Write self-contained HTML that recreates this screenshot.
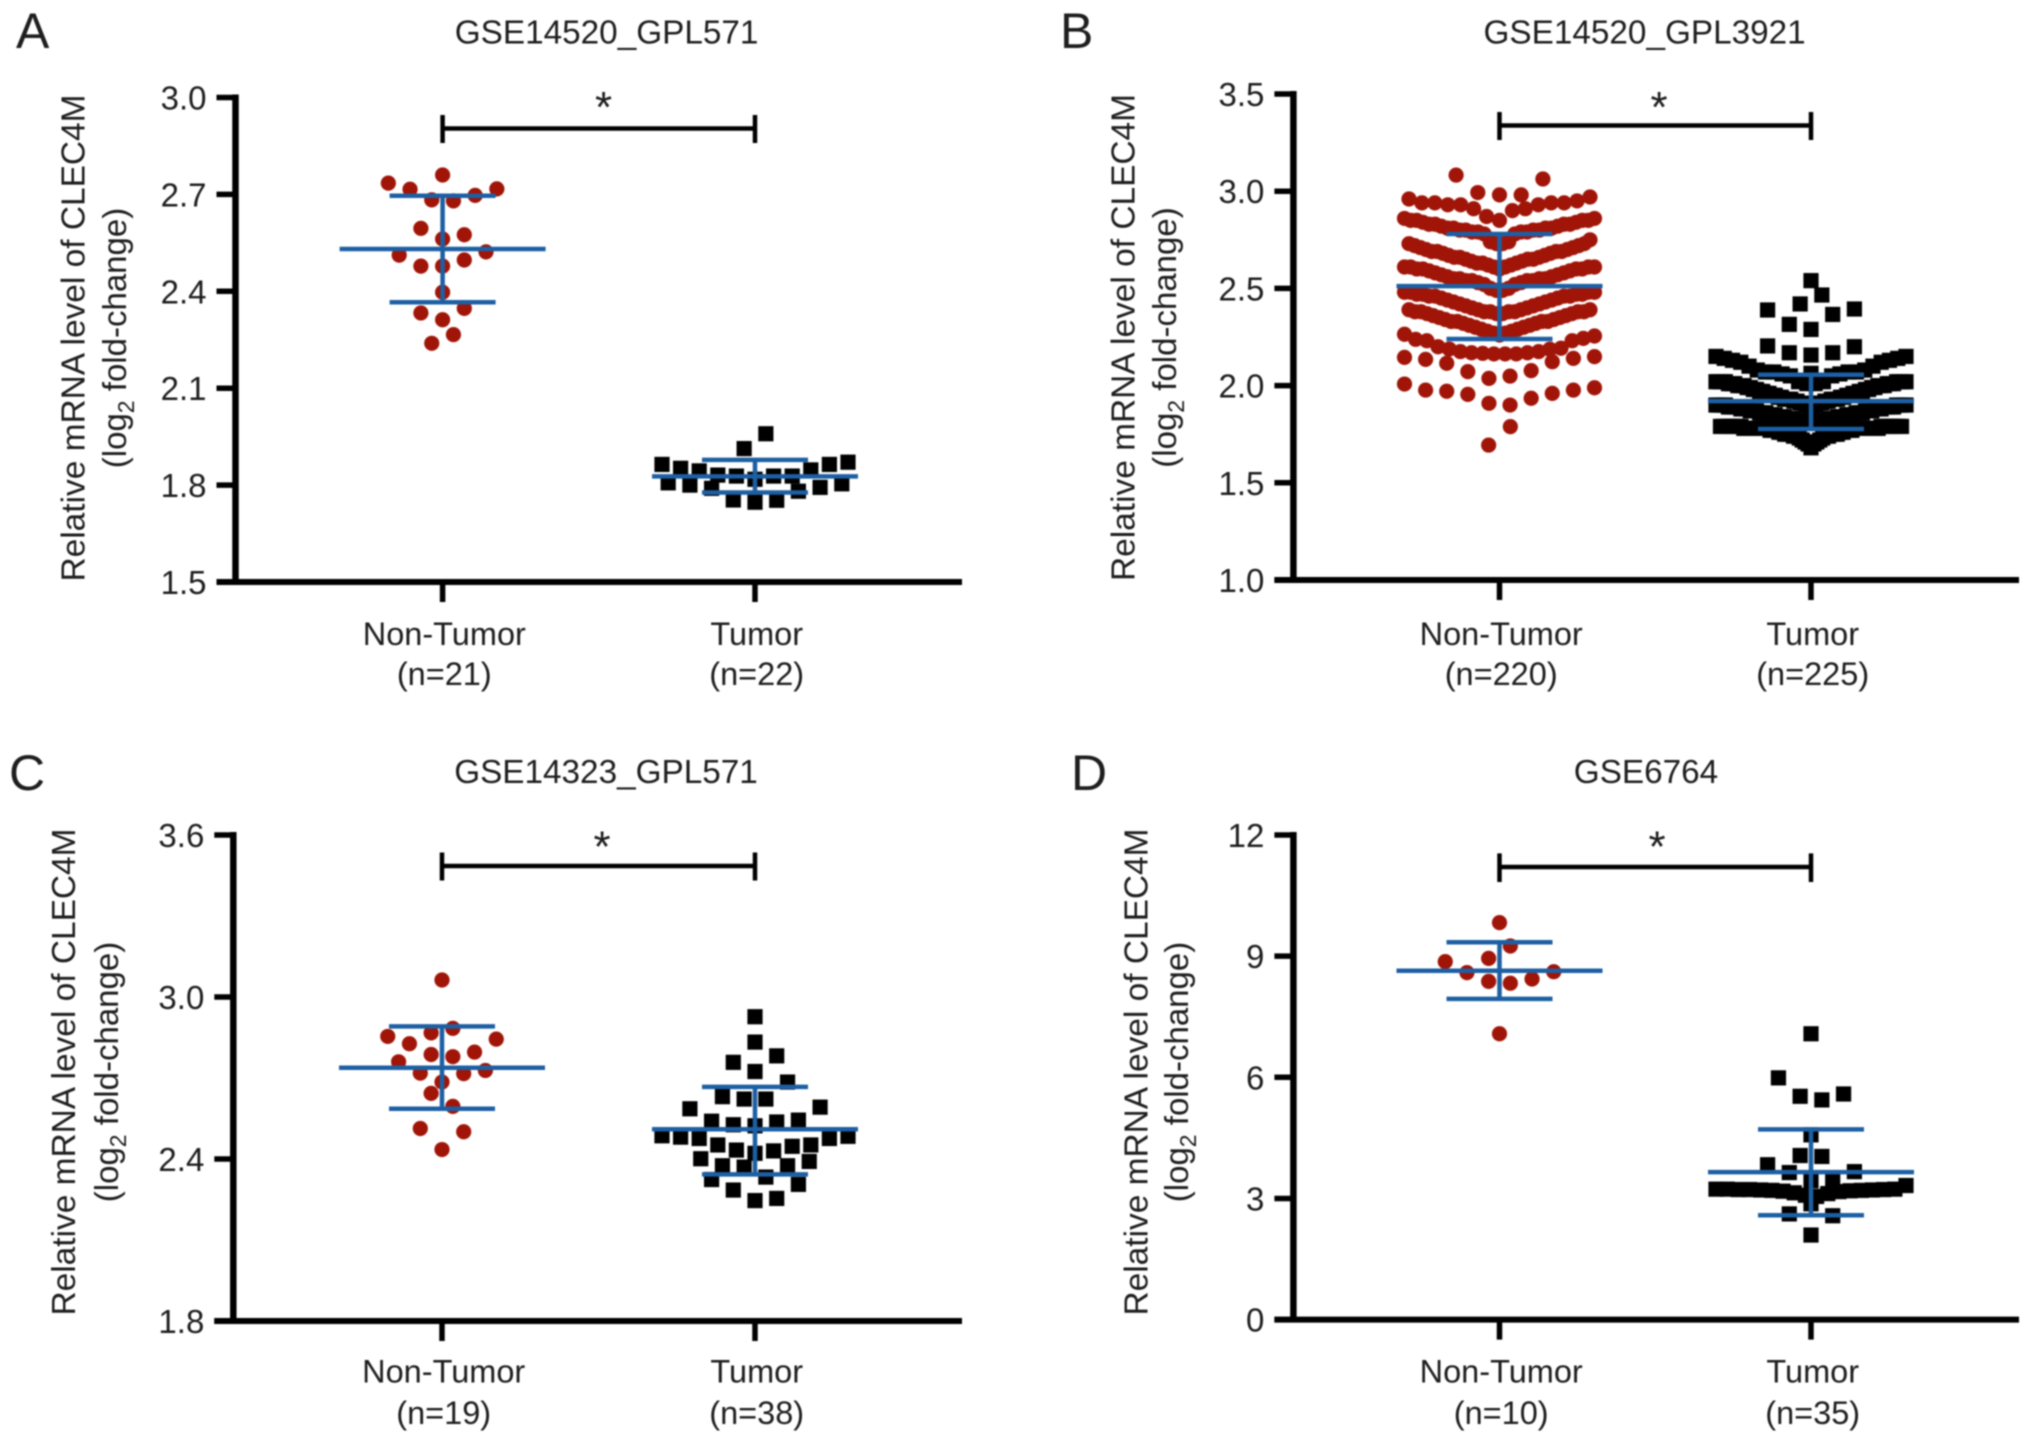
<!DOCTYPE html>
<html lang="en">
<head>
<meta charset="utf-8">
<title>CLEC4M relative mRNA level</title>
<style>
html,body{margin:0;padding:0;background:#fff;}
svg{display:block;filter:blur(0.7px);}
text{font-family:"Liberation Sans",sans-serif;fill:#1e1e1e;}
</style>
</head>
<body>
<svg id="figure" xmlns="http://www.w3.org/2000/svg" width="2032" height="1442" viewBox="0 0 2032 1442">
<rect width="2032" height="1442" fill="#fff"/>
<text x="16" y="48" font-size="50">A</text>
<text x="1060" y="48" font-size="50">B</text>
<text x="9" y="790" font-size="50">C</text>
<text x="1071" y="790" font-size="50">D</text>
</svg>
<script>
const categories = ['Non-Tumor', 'Tumor'];

/* Panel A */
const panelATitle = 'GSE14520_GPL571';
const panelATicks = ['1.5', '1.8', '2.1', '2.4', '2.7', '3.0'];
const panelACounts = ['(n=21)', '(n=22)'];
const panelANonTumorRows = [
  [2.76],
  [2.735, 2.716, 2.683, 2.680, 2.697, 2.717],
  [2.595, 2.562, 2.575],
  [2.512, 2.478, 2.478, 2.497, 2.522],
  [2.397],
  [2.333, 2.312, 2.347],
  [2.239, 2.266]
];
const panelATumorRows = [
  [1.913, 1.959],
  [1.864, 1.852, 1.844, 1.831, 1.828, 1.818, 1.828, 1.828, 1.847, 1.864, 1.871],
  [1.807, 1.800, 1.790, 1.754, 1.747, 1.753, 1.781, 1.793, 1.804]
];
const panelANonTumorStats = [2.531, 2.696, 2.366];
const panelATumorStats = [1.827, 1.878, 1.777];

/* Panel B */
const panelBTitle = 'GSE14520_GPL3921';
const panelBTicks = ['1.0', '1.5', '2.0', '2.5', '3.0', '3.5'];
const panelBCounts = ['(n=220)', '(n=225)'];
const panelBNonTumorRows = [
  [3.083, 2.993, 2.981, 2.981, 3.063],
  [2.96, 2.94, 2.94, 2.93, 2.93, 2.91, 2.87, 2.85, 2.90, 2.91, 2.93, 2.94, 2.94, 2.95, 2.97],
  [2.86, 2.85, 2.85, 2.84, 2.83, 2.83, 2.82, 2.81, 2.81, 2.80, 2.80, 2.79, 2.79, 2.78, 2.74, 2.73,
   2.73, 2.74, 2.78, 2.79, 2.79, 2.80, 2.80, 2.81, 2.81, 2.82, 2.83, 2.83, 2.84, 2.85, 2.85, 2.86],
  [2.73, 2.72, 2.71, 2.70, 2.69, 2.69, 2.68, 2.67, 2.66, 2.66, 2.65, 2.64, 2.63, 2.63, 2.62, 2.61, 2.60,
   2.61, 2.62, 2.63, 2.64, 2.65, 2.65, 2.66, 2.67, 2.68, 2.69, 2.69, 2.70, 2.71, 2.72, 2.73, 2.75],
  [2.61, 2.61, 2.60, 2.60, 2.59, 2.58, 2.57, 2.56, 2.55, 2.55, 2.54, 2.54, 2.53, 2.52, 2.50, 2.49,
   2.49, 2.50, 2.52, 2.53, 2.54, 2.54, 2.55, 2.55, 2.56, 2.57, 2.58, 2.59, 2.60, 2.60, 2.61, 2.61],
  [2.48, 2.48, 2.47, 2.47, 2.46, 2.46, 2.45, 2.44, 2.43, 2.42, 2.41, 2.40, 2.39, 2.38, 2.38, 2.37,
   2.37, 2.38, 2.38, 2.39, 2.40, 2.41, 2.42, 2.43, 2.44, 2.45, 2.46, 2.46, 2.47, 2.47, 2.48, 2.48],
  [2.39, 2.38, 2.38, 2.37, 2.36, 2.35, 2.34, 2.33, 2.33, 2.32, 2.31, 2.30, 2.29, 2.28, 2.27, 2.26,
   2.27, 2.28, 2.29, 2.30, 2.31, 2.32, 2.33, 2.33, 2.34, 2.35, 2.36, 2.37, 2.38, 2.38, 2.39],
  [2.264, 2.238, 2.231, 2.200, 2.188, 2.175, 2.169, 2.166, 2.163, 2.163, 2.163, 2.169, 2.175, 2.187, 2.192, 2.231, 2.243, 2.255],
  [2.145, 2.135, 2.115, 2.072, 2.037, 2.049, 2.077, 2.123, 2.140, 2.149],
  [2.008, 1.977, 1.971, 1.955, 1.909, 1.900, 1.935, 1.960, 1.977, 1.989],
  [1.694, 1.789]
];
const panelBTumorRows = [
  [2.540],
  [2.420, 2.466],
  [2.389, 2.315, 2.289, 2.366, 2.394],
  [2.204, 2.169, 2.157, 2.169, 2.200],
  [2.063],
  [2.15, 2.14, 2.13, 2.12, 2.10, 2.08, 2.07, 2.07, 2.06, 2.05, 2.02, 2.01,
   2.01, 2.02, 2.05, 2.06, 2.07, 2.07, 2.08, 2.10, 2.12, 2.13, 2.14, 2.15],
  [2.02, 2.02, 2.02, 2.02, 2.01, 2.01, 2.01, 2.00, 2.00, 2.00, 1.99, 1.99, 1.98, 1.98, 1.97, 1.97,
   1.96, 1.96, 1.95, 1.95, 1.94, 1.94, 1.93, 1.93, 1.93, 1.92, 1.92, 1.91, 1.91, 1.90, 1.89,
   1.89, 1.90, 1.91, 1.91, 1.92, 1.92, 1.93, 1.93, 1.93, 1.94, 1.94, 1.95, 1.95, 1.96, 1.96,
   1.97, 1.97, 1.98, 1.98, 1.99, 1.99, 2.00, 2.00, 2.00, 2.01, 2.01, 2.01, 2.02, 2.02, 2.02, 2.02],
  [1.90, 1.90, 1.90, 1.90, 1.89, 1.89, 1.89, 1.89, 1.88, 1.88, 1.88, 1.87, 1.87, 1.87, 1.86, 1.86,
   1.86, 1.85, 1.85, 1.85, 1.84, 1.84, 1.84, 1.83, 1.83, 1.83, 1.82, 1.82, 1.82, 1.81, 1.81,
   1.81, 1.81, 1.82, 1.82, 1.82, 1.83, 1.83, 1.83, 1.84, 1.84, 1.84, 1.85, 1.85, 1.85, 1.86,
   1.86, 1.86, 1.87, 1.87, 1.87, 1.88, 1.88, 1.88, 1.89, 1.89, 1.89, 1.89, 1.90, 1.90, 1.90, 1.90],
  [1.79, 1.79, 1.79, 1.79, 1.79, 1.79, 1.79, 1.79, 1.78, 1.78, 1.78, 1.78, 1.78, 1.78, 1.78, 1.78,
   1.78, 1.77, 1.77, 1.77, 1.76, 1.76, 1.75, 1.75, 1.75, 1.74, 1.74, 1.73, 1.72, 1.71, 1.70, 1.68,
   1.70, 1.71, 1.72, 1.73, 1.74, 1.74, 1.75, 1.75, 1.75, 1.76, 1.76, 1.77, 1.77, 1.77, 1.78,
   1.78, 1.78, 1.78, 1.78, 1.78, 1.78, 1.78, 1.78, 1.79, 1.79, 1.79, 1.79, 1.79, 1.79, 1.79, 1.79]
];
const panelBNonTumorStats = [2.512, 2.78, 2.24];
const panelBTumorStats = [1.92, 2.056, 1.777];

/* Panel C */
const panelCTitle = 'GSE14323_GPL571';
const panelCTicks = ['1.8', '2.4', '3.0', '3.6'];
const panelCCounts = ['(n=19)', '(n=38)'];
const panelCNonTumorRows = [
  [3.063],
  [2.854, 2.827, 2.867, 2.884, 2.796, 2.844],
  [2.787, 2.779],
  [2.760, 2.718, 2.685, 2.716, 2.728],
  [2.643, 2.595],
  [2.513, 2.435, 2.501]
];
const panelCTumorRows = [
  [2.927],
  [2.833],
  [2.758, 2.724, 2.782],
  [2.631, 2.622, 2.622, 2.685],
  [2.586, 2.540, 2.527, 2.523, 2.537, 2.544, 2.592],
  [2.486, 2.481, 2.476, 2.452, 2.433, 2.421, 2.430, 2.447, 2.452, 2.476, 2.484],
  [2.401, 2.375, 2.370, 2.333, 2.375, 2.391],
  [2.324, 2.285, 2.246, 2.254, 2.306]
];
const panelCNonTumorStats = [2.738, 2.891, 2.586];
const panelCTumorStats = [2.510, 2.667, 2.343];

/* Panel D */
const panelDTitle = 'GSE6764';
const panelDTicks = ['0', '3', '6', '9', '12'];
const panelDCounts = ['(n=10)', '(n=35)'];
const panelDNonTumorRows = [
  [9.83],
  [8.865, 8.592, 8.945, 9.252, 8.433, 8.615],
  [8.376, 8.330],
  [7.078]
];
const panelDTumorRows = [
  [7.078],
  [5.986, 5.530, 5.440, 5.587],
  [4.575],
  [4.063, 4.040],
  [3.835, 3.641, 3.437, 3.459, 3.664],
  [3.23, 3.23, 3.22, 3.22, 3.21, 3.20, 3.18, 3.14, 3.08, 3.05, 3.12, 3.17, 3.19, 3.20, 3.21, 3.22, 3.23, 3.32],
  [2.617, 2.868, 2.572],
  [2.094]
];
const panelDNonTumorStats = [8.637, 9.343, 7.943];
const panelDTumorStats = [3.653, 4.711, 2.583];

const RED = '#a01508';
const BLACK = '#000';
const BLUE = '#1d5fa3';
const SVG_NS = 'http://www.w3.org/2000/svg';
const svg = document.getElementById('figure');

function make(tag, parent) {
  const el = document.createElementNS(SVG_NS, tag);
  parent.appendChild(el);
  return el;
}
function setAll(el, props) {
  Object.keys(props).forEach(function (k) { el.setAttribute(k, props[k]); });
}
function line(parent, x1, y1, x2, y2, color, width) {
  const el = make('line', parent);
  setAll(el, { x1: x1, y1: y1, x2: x2, y2: y2, stroke: color, 'stroke-width': width });
  return el;
}
function text(parent, str, x, y, size, anchor) {
  const el = make('text', parent);
  setAll(el, { x: x, y: y, 'font-size': size, 'text-anchor': anchor });
  el.textContent = str;
  return el;
}
function swarmOffset(i, n, geom) {
  if (n < 2) return 0;
  const half = n % 2 ? geom.oddHalf : geom.evenHalf;
  const step = Math.min(21.7, half / ((n - 1) / 2));
  return (i - (n - 1) / 2) * step;
}

function drawSeries(group, rows, cx, yScale, isCircle, geom, key) {
  rows.forEach(function (row) {
    row.forEach(function (value, i) {
      const px = cx + swarmOffset(i, row.length, geom);
      const py = yScale(value);
      let el;
      if (isCircle) {
        el = make('circle', group);
        setAll(el, { cx: px, cy: py, r: 7.6, fill: RED });
      } else {
        el = make('rect', group);
        setAll(el, { x: px - 7.6, y: py - 7.6, width: 15.2, height: 15.2, fill: BLACK });
      }
      
      
    });
  });
}

function drawErrorBars(group, stats, cx, yScale, key) {
  const mean = line(group, cx - 103, yScale(stats[0]), cx + 103, yScale(stats[0]), BLUE, 4.5);
  
  
  const stem = line(group, cx, yScale(stats[1]), cx, yScale(stats[2]), BLUE, 4.5);
  
  
  const upper = line(group, cx - 53, yScale(stats[1]), cx + 53, yScale(stats[1]), BLUE, 4.5);
  
  
  const lower = line(group, cx - 53, yScale(stats[2]), cx + 53, yScale(stats[2]), BLUE, 4.5);
  
  
}

function drawPanel(p) {
  const g = make('g', svg);
  
  

  const tickValues = p.ticks.map(Number);
  const vMin = tickValues[0];
  const vMax = tickValues[tickValues.length - 1];
  const yScale = function (v) { return p.yBottom - (v - vMin) / (vMax - vMin) * (p.yBottom - p.yTop); };
  const xScale = function (i) { return p.xCat0 + i * (p.xCat1 - p.xCat0); };

  const title = text(g, p.title, p.titleX, p.titleY, 33.3, 'middle');
  
  

  const yAxis = line(g, p.axisX, p.yTop - 3, p.axisX, p.yBottom, BLACK, 6.5);
  
  
  const xAxis = line(g, p.axisX - 19, p.yBottom, p.xEnd, p.yBottom, BLACK, 6);
  
  

  p.ticks.forEach(function (label, i) {
    const y = yScale(tickValues[i]);
    const t = line(g, p.axisX - 19, y, p.axisX, y, BLACK, 5.5);
    
    
    const l = text(g, label, p.axisX - 29, y + 12, 33, 'end');
    
    
  });

  categories.forEach(function (name, i) {
    const x = xScale(i);
    const t = line(g, x, p.yBottom, x, p.yBottom + 20, BLACK, 5.5);
    
    
    const l = text(g, name, x + 1.7, p.catY1, 32.5, 'middle');
    
    
    const c = text(g, p.counts[i], x + 1.7, p.catY2, 32.5, 'middle');
    
    
  });

  const yTitle = text(g, 'Relative mRNA level of CLEC4M', 0, 0, 33, 'middle');
  yTitle.setAttribute('transform', 'translate(' + p.yTitleX + ',' + p.yTitleY + ') rotate(-90)');
  yTitle.setAttribute('textLength', 487);
  yTitle.setAttribute('lengthAdjust', 'spacingAndGlyphs');
  
  

  const ySub = text(g, '(log', 0, 0, 33, 'middle');
  ySub.setAttribute('transform', 'translate(' + p.ySubX + ',' + p.yTitleY + ') rotate(-90)');
  
  
  const sub = make('tspan', ySub);
  setAll(sub, { dy: 8, 'font-size': 23 });
  sub.textContent = '2';
  const rest = make('tspan', ySub);
  setAll(rest, { dy: -8 });
  rest.textContent = ' fold-change)';

  const series = make('g', g);
  
  
  drawSeries(series, p.nonTumorRows, xScale(0), yScale, true, p, 'non-tumor');
  drawSeries(series, p.tumorRows, xScale(1), yScale, false, p, 'tumor');

  const bars = make('g', g);
  
  
  drawErrorBars(bars, p.nonTumorStats, xScale(0), yScale, 'non-tumor');
  drawErrorBars(bars, p.tumorStats, xScale(1), yScale, 'tumor');

  const bracket = make('path', g);
  setAll(bracket, {
    d: 'M' + xScale(0) + ' ' + p.brTop + 'V' + p.brBottom + 'M' + xScale(1) + ' ' + p.brTop + 'V' + p.brBottom +
       'M' + xScale(0) + ' ' + p.brY + 'H' + xScale(1),
    stroke: BLACK, 'stroke-width': 4.5, fill: 'none'
  });
  
  
  const star = text(g, '*', p.starX, p.starY, 44, 'middle');
  
  
}

drawPanel({
  id: 'a', title: panelATitle, ticks: panelATicks, counts: panelACounts,
  nonTumorRows: panelANonTumorRows, tumorRows: panelATumorRows,
  nonTumorStats: panelANonTumorStats, tumorStats: panelATumorStats,
  axisX: 235.5, yTop: 97.5, yBottom: 582, xEnd: 962, xCat0: 442.6, xCat1: 755,
  titleX: 606.6, titleY: 43.7, yTitleX: 84.5, ySubX: 126, yTitleY: 338,
  catY1: 645, catY2: 685,
  brY: 128.5, brTop: 115, brBottom: 143, starX: 603.5, starY: 122, oddHalf: 93, evenHalf: 95
});
drawPanel({
  id: 'b', title: panelBTitle, ticks: panelBTicks, counts: panelBCounts,
  nonTumorRows: panelBNonTumorRows, tumorRows: panelBTumorRows,
  nonTumorStats: panelBNonTumorStats, tumorStats: panelBTumorStats,
  axisX: 1293.4, yTop: 94, yBottom: 580, xEnd: 2019, xCat0: 1499.5, xCat1: 1811,
  titleX: 1644.6, titleY: 43.7, yTitleX: 1134.5, ySubX: 1176, yTitleY: 337.5,
  catY1: 645, catY2: 685,
  brY: 125.5, brTop: 112, brBottom: 140, starX: 1659, starY: 122, oddHalf: 90.5, evenHalf: 95
});
drawPanel({
  id: 'c', title: panelCTitle, ticks: panelCTicks, counts: panelCCounts,
  nonTumorRows: panelCNonTumorRows, tumorRows: panelCTumorRows,
  nonTumorStats: panelCNonTumorStats, tumorStats: panelCTumorStats,
  axisX: 233.3, yTop: 835, yBottom: 1321, xEnd: 962, xCat0: 442, xCat1: 755,
  titleX: 606, titleY: 783, yTitleX: 75, ySubX: 118, yTitleY: 1072,
  catY1: 1382.5, catY2: 1424,
  brY: 866, brTop: 852.5, brBottom: 880.5, starX: 602, starY: 861.5, oddHalf: 93, evenHalf: 95
});
drawPanel({
  id: 'd', title: panelDTitle, ticks: panelDTicks, counts: panelDCounts,
  nonTumorRows: panelDNonTumorRows, tumorRows: panelDTumorRows,
  nonTumorStats: panelDNonTumorStats, tumorStats: panelDTumorStats,
  axisX: 1293.4, yTop: 835, yBottom: 1319.6, xEnd: 2019, xCat0: 1499.5, xCat1: 1811,
  titleX: 1646, titleY: 783, yTitleX: 1147.5, ySubX: 1188, yTitleY: 1072,
  catY1: 1382.5, catY2: 1424,
  brY: 867, brTop: 853.4, brBottom: 882, starX: 1657, starY: 861.5, oddHalf: 93, evenHalf: 95
});
</script>
</body>
</html>
